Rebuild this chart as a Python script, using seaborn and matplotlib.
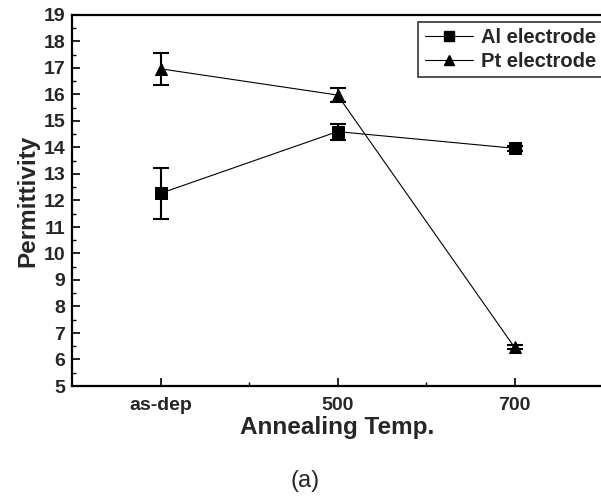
import numpy as np
import pandas as pd
import matplotlib
matplotlib.use("Agg")
import matplotlib.pyplot as plt
import seaborn as sns
from matplotlib.ticker import MultipleLocator, FixedLocator
from matplotlib.lines import Line2D

# ---- data ----
categories = ["as-dep", "500", "700"]
al_values = [12.27, 14.6, 13.97]
al_errors = [0.95, 0.3, 0.1]
pt_values = [16.97, 15.98, 6.46]
pt_errors = [0.6, 0.28, 0.08]
series_names = ["Al electrode", "Pt electrode"]

sns.set_theme(style="white")
plt.rcParams['font.family'] = ['Liberation Sans', 'DejaVu Sans']

fig = plt.figure(figsize=(6.01, 4.98), dpi=100)
ax = fig.add_axes([72/601, 112/498, 531/601, 371/498])

pos = np.arange(len(categories))
df = pd.DataFrame({
    "x": np.concatenate([pos, pos]),
    "y": al_values + pt_values,
    "series": [series_names[0]]*3 + [series_names[1]]*3,
})

sns.lineplot(data=df, x="x", y="y", hue="series", style="series",
             palette=["black", "black"], markers={series_names[0]: "s", series_names[1]: "^"},
             dashes=False, linewidth=0.8, markersize=8, markeredgecolor="black",
             ax=ax, legend=False)

ax.errorbar(pos, al_values, yerr=al_errors, fmt="none", ecolor="black",
            elinewidth=1.5, capsize=6, capthick=1.5)
ax.errorbar(pos, pt_values, yerr=pt_errors, fmt="none", ecolor="black",
            elinewidth=1.5, capsize=6, capthick=1.5)

handles = [Line2D([], [], color="black", lw=0.8, marker="s", markersize=7),
           Line2D([], [], color="black", lw=0.8, marker="^", markersize=7)]
leg = ax.legend(handles, series_names, loc="upper right", bbox_to_anchor=(0.9985, 0.981),
                frameon=True, fancybox=False, handlelength=2.4, handletextpad=0.4,
                borderpad=0.3, labelspacing=0.25, borderaxespad=0,
                prop={"weight": "bold", "size": 14.5})
leg.get_frame().set_edgecolor("black")
leg.get_frame().set_linewidth(1.2)

ax.set_xlim(-0.5, 2.5)
ax.set_ylim(5, 19)
ax.set_xticks(pos)
ax.set_xticklabels(categories)
ax.xaxis.set_minor_locator(FixedLocator([0.5, 1.5]))
ax.yaxis.set_major_locator(MultipleLocator(1))
ax.yaxis.set_minor_locator(MultipleLocator(0.5))

ax.tick_params(axis="both", which="major", direction="in", length=6, width=1.2,
               labelsize=14, color="black", left=True, bottom=True, top=False, right=False)
ax.tick_params(axis="y", which="major", pad=5)
ax.tick_params(axis="x", which="major", pad=8)
ax.tick_params(axis="both", which="minor", direction="in", length=3, width=1.0,
               color="black", left=True, bottom=True, top=False, right=False)
for lab in ax.get_xticklabels() + ax.get_yticklabels():
    lab.set_fontweight("bold")

for side in ["left", "bottom", "top"]:
    ax.spines[side].set_color("black")
    ax.spines[side].set_linewidth(1.6)
ax.spines["right"].set_visible(False)

ax.set_xlabel("Annealing Temp.", fontsize=17.5, fontweight="bold", labelpad=1)
ax.set_ylabel("Permittivity", fontsize=17.5, fontweight="bold", labelpad=3)

fig.text(305/601, 1 - 481/498, "(a)", ha="center", va="center", fontsize=17)

fig.savefig("out.png", dpi=100)
